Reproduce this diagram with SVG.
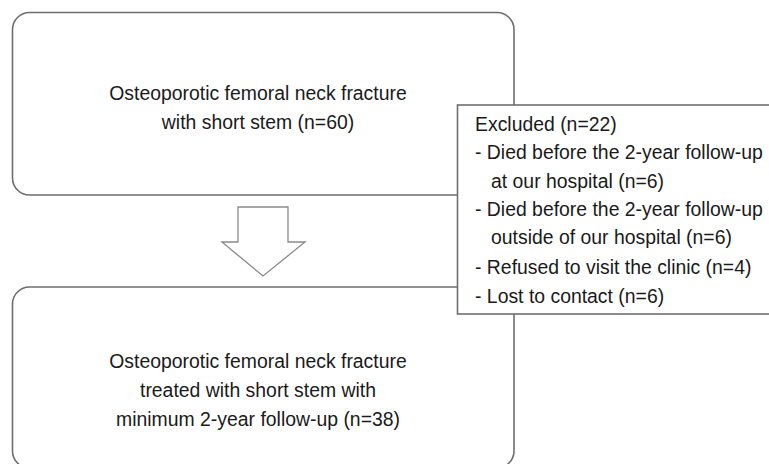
<svg xmlns="http://www.w3.org/2000/svg" width="769" height="464" viewBox="0 0 769 464">
<style>
.box{fill:#fff;stroke:#6e6e6e;stroke-width:1.6}
.arrow{fill:#fff;stroke:#8a8a8a;stroke-width:1.3;stroke-linejoin:miter}
text{font-family:"Liberation Sans",Arial,sans-serif;font-size:21px;fill:#1a1a1a}
.c{text-anchor:middle}
</style>
<rect width="769" height="464" fill="#fff"/>
<g id="node-top">
<rect class="box" x="12.5" y="12.5" width="501.5" height="182.5" rx="17"/>
<text class="c" transform="translate(258,100) scale(0.924,1)">Osteoporotic femoral neck fracture</text>
<text class="c" transform="translate(258,129) scale(0.924,1)">with short stem (n=60)</text>
</g>
<g id="node-bottom">
<rect class="box" x="12.5" y="287" width="501.5" height="181" rx="17"/>
<text class="c" transform="translate(258,368) scale(0.924,1)">Osteoporotic femoral neck fracture</text>
<text class="c" transform="translate(258,397) scale(0.924,1)">treated with short stem with</text>
<text class="c" transform="translate(258,426) scale(0.924,1)">minimum 2-year follow-up (n=38)</text>
</g>
<g id="connectors">
<path class="arrow" d="M238,207 H288 V242 H305 L263,276 L222,242 H238 Z"/>
</g>
<g id="node-excluded">
<rect class="box" x="457.5" y="105" width="330" height="209"/>
<text transform="translate(475,131) scale(0.924,1)">Excluded (n=22)</text>
<text transform="translate(475,159) scale(0.924,1)">- Died before the 2-year follow-up</text>
<text transform="translate(491,188) scale(0.924,1)">at our hospital (n=6)</text>
<text transform="translate(475,216) scale(0.924,1)">- Died before the 2-year follow-up</text>
<text transform="translate(491,244) scale(0.924,1)">outside of our hospital (n=6)</text>
<text transform="translate(475,274) scale(0.924,1)">- Refused to visit the clinic (n=4)</text>
<text transform="translate(475,303) scale(0.924,1)">- Lost to contact (n=6)</text>
</g>
</svg>
